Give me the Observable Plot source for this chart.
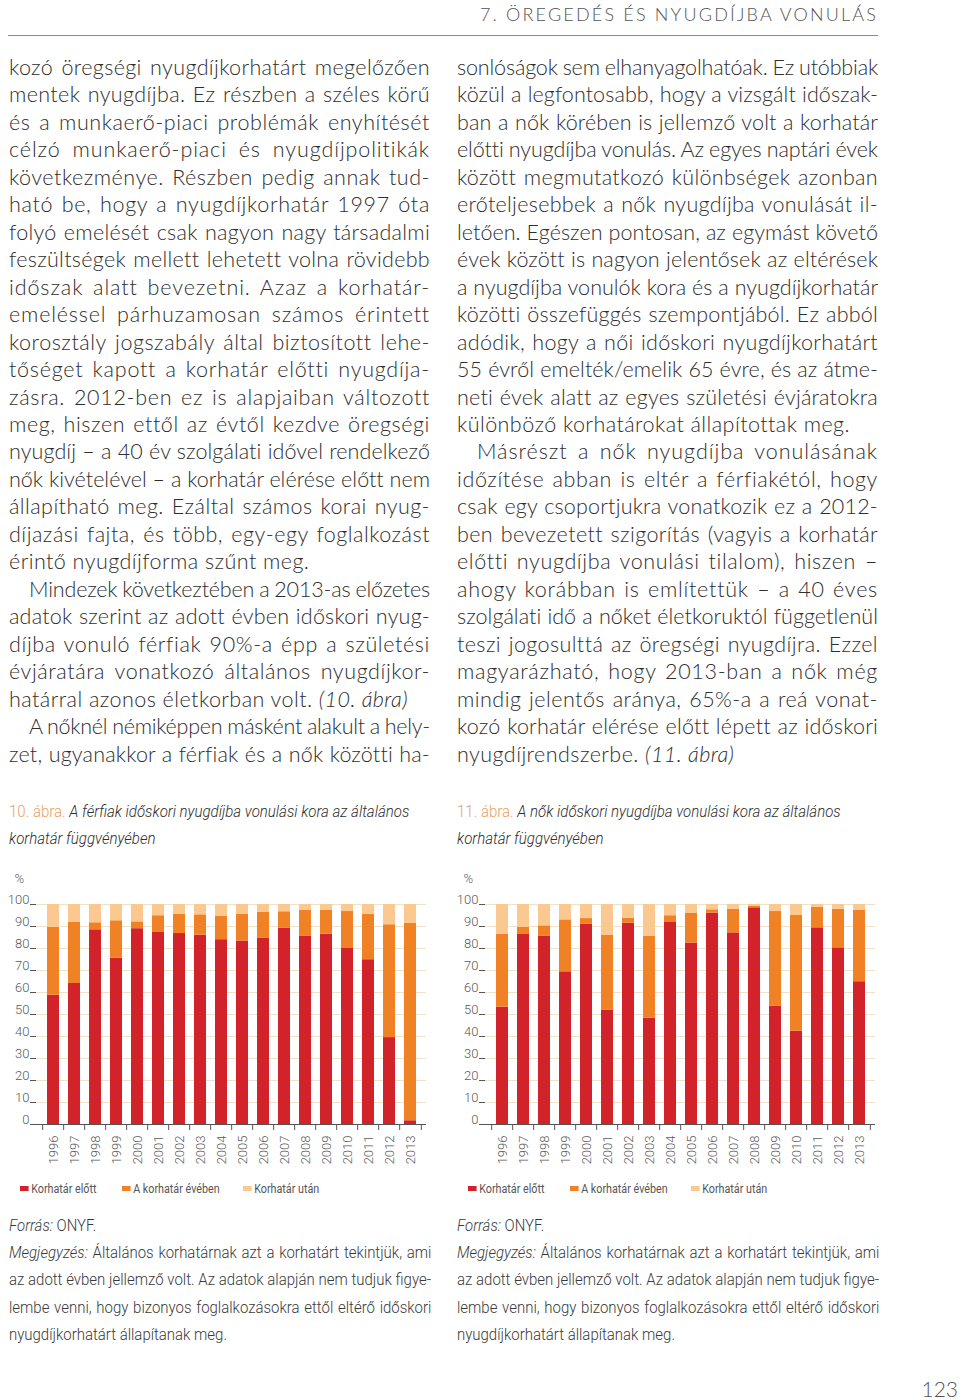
<!DOCTYPE html>
<html>
<head>
<meta charset="utf-8">
<script src="https://cdn.jsdelivr.net/npm/d3@7"></script>
<script src="https://cdn.jsdelivr.net/npm/@observablehq/plot@0.6"></script>
<style>
  html, body { margin: 0; padding: 0; background: #fff; }
  #page { position: relative; width: 960px; height: 1400px; overflow: hidden; background: #fff; }
  .body { position: absolute; font-family: Lato, "Open Sans", sans-serif; font-weight: 300; font-size: 21.5px; line-height: 27.46px; color: #2e2e2e; white-space: nowrap; }
  .narrow { font-family: Roboto, sans-serif; font-weight: 300; transform-origin: 0 50%; }
  .abs { position: absolute; white-space: nowrap; }
  .legend { position: absolute; font-size: 12.5px; color: #555; white-space: nowrap; }
  .sw { display: inline-block; width: 10px; height: 5px; vertical-align: middle; margin-right: 3px; position: relative; top: -1px; }
  .chart { position: absolute; }
</style>
</head>
<body>
<div id="page"></div>
<script>
// ---------- DATA ----------
const years = ["1996","1997","1998","1999","2000","2001","2002","2003","2004","2005","2006","2007","2008","2009","2010","2011","2012","2013"];
const seriesNames = ["Korhatár előtt", "A korhatár évében", "Korhatár után"];
const yTicks = [0,10,20,30,40,50,60,70,80,90,100];

// 10. ábra – férfiak (%)
const menBefore = [58.8,64.1,88.5,75.6,89.0,87.3,86.8,86.1,84.0,83.4,84.6,89.3,85.5,86.5,80.0,74.9,39.5,1.7];
const menInYear = [30.8,27.9,3.2,17.0,3.1,7.6,8.8,9.2,10.6,12.2,11.8,7.4,11.9,10.9,16.8,20.7,51.3,89.7];
const menAfter  = [10.4,8.0,8.3,7.4,7.9,5.1,4.4,4.7,5.4,4.4,3.6,3.3,2.6,2.6,3.2,4.4,9.2,8.6];

// 11. ábra – nők (%)
const womenBefore = [53.3,86.4,85.5,69.4,91.1,51.9,91.5,48.3,92.1,82.5,96.1,87.1,98.5,53.7,42.4,89.4,80.3,64.9];
const womenInYear = [33.2,3.3,4.8,23.6,2.5,34.2,2.3,37.3,2.8,13.6,1.5,10.8,0.6,43.1,52.6,9.4,17.6,32.4];
const womenAfter  = [13.5,10.3,9.7,7.0,6.4,13.9,6.2,14.4,5.1,3.9,2.4,2.1,0.9,3.2,5.0,1.2,2.1,2.7];

// ---------- TEXT ----------
const headerText = "7. ÖREGEDÉS ÉS NYUGDÍJBA VONULÁS";
const leftLines = [
  "kozó öregségi nyugdíjkorhatárt megelőzően",
  "mentek nyugdíjba. Ez részben a széles körű",
  "és a munkaerő-piaci problémák enyhítését",
  "célzó munkaerő-piaci és nyugdíjpolitikák",
  "következménye. Részben pedig annak tud-",
  "ható be, hogy a nyugdíjkorhatár 1997 óta",
  "folyó emelését csak nagyon nagy társadalmi",
  "feszültségek mellett lehetett volna rövidebb",
  "időszak alatt bevezetni. Azaz a korhatár-",
  "emeléssel párhuzamosan számos érintett",
  "korosztály jogszabály által biztosított lehe-",
  "tőséget kapott a korhatár előtti nyugdíja-",
  "zásra. 2012-ben ez is alapjaiban változott",
  "meg, hiszen ettől az évtől kezdve öregségi",
  "nyugdíj – a 40 év szolgálati idővel rendelkező",
  "nők kivételével – a korhatár elérése előtt nem",
  "állapítható meg. Ezáltal számos korai nyug-",
  "díjazási fajta, és több, egy-egy foglalkozást",
  "érintő nyugdíjforma szűnt meg.",
  "Mindezek következtében a 2013-as előzetes",
  "adatok szerint az adott évben időskori nyug-",
  "díjba vonuló férfiak 90%-a épp a születési",
  "évjáratára vonatkozó általános nyugdíjkor-",
  "határral azonos életkorban volt. (10. ábra)",
  "A nőknél némiképpen másként alakult a hely-",
  "zet, ugyanakkor a férfiak és a nők közötti ha-"
];
const leftIndent = [19, 24];
const leftLast = [18, 23];
const rightLines = [
  "sonlóságok sem elhanyagolhatóak. Ez utóbbiak",
  "közül a legfontosabb, hogy a vizsgált időszak-",
  "ban a nők körében is jellemző volt a korhatár",
  "előtti nyugdíjba vonulás. Az egyes naptári évek",
  "között megmutatkozó különbségek azonban",
  "erőteljesebbek a nők nyugdíjba vonulását il-",
  "letően. Egészen pontosan, az egymást követő",
  "évek között is nagyon jelentősek az eltérések",
  "a nyugdíjba vonulók kora és a nyugdíjkorhatár",
  "közötti összefüggés szempontjából. Ez abból",
  "adódik, hogy a női időskori nyugdíjkorhatárt",
  "55 évről emelték/emelik 65 évre, és az átme-",
  "neti évek alatt az egyes születési évjáratokra",
  "különböző korhatárokat állapítottak meg.",
  "Másrészt a nők nyugdíjba vonulásának",
  "időzítése abban is eltér a férfiakétól, hogy",
  "csak egy csoportjukra vonatkozik ez a 2012-",
  "ben bevezetett szigorítás (vagyis a korhatár",
  "előtti nyugdíjba vonulási tilalom), hiszen –",
  "ahogy korábban is említettük – a 40 éves",
  "szolgálati idő a nőket életkoruktól függetlenül",
  "teszi jogosulttá az öregségi nyugdíjra. Ezzel",
  "magyarázható, hogy 2013-ban a nők még",
  "mindig jelentős aránya, 65%-a a reá vonat-",
  "kozó korhatár elérése előtt lépett az időskori",
  "nyugdíjrendszerbe. (11. ábra)"
];
const rightIndent = [14];
const rightLast = [13, 25];

const captionNums = ["10. ábra.", "11. ábra."];
const captionTexts = ["A férfiak időskori nyugdíjba vonulási kora az általános", "A nők időskori nyugdíjba vonulási kora az általános"];
const captionLine2 = "korhatár függvényében";
const sourceText = "ONYF.";
const noteLines = [
  "Általános korhatárnak azt a korhatárt tekintjük, ami",
  "az adott évben jellemző volt. Az adatok alapján nem tudjuk figye-",
  "lembe venni, hogy bizonyos foglalkozásokra ettől eltérő időskori",
  "nyugdíjkorhatárt állapítanak meg."
];
const pageNumber = "123";

// ---------- STYLE ----------
const colors = ["#d2232b", "#f08125", "#fbc98f"];
const gridColor = "#efe2c6";
const chartFont = 'Roboto, sans-serif';

const page = document.getElementById("page");

function el(tag, cls, style, html) {
  const e = document.createElement(tag);
  if (cls) e.className = cls;
  Object.assign(e.style, style || {});
  if (html != null) e.innerHTML = html;
  page.appendChild(e);
  return e;
}
const width = e => e.getBoundingClientRect().width;

// justify a body line: part of the slack into letter-spacing, the rest into word spacing
function fitBody(e, W, justify) {
  const txt = e.textContent;
  const spaces = (txt.match(/ /g) || []).length;
  const n = txt.length;
  e.style.letterSpacing = "0px"; e.style.wordSpacing = "0px";
  const nat = width(e);
  let ls;
  if (justify) {
    ls = Math.max(-0.6, Math.min(1.6, (W - nat) * 0.7 / n));
  } else {
    ls = Math.min(0.45, (W - nat) / n);
  }
  e.style.letterSpacing = ls + "px";
  const w2 = width(e);
  if (justify && spaces > 0) e.style.wordSpacing = ((W - w2) / spaces) + "px";
}

// condensed text: fixed horizontal scale, optional justification
function fitNarrow(e, scale, W, justify) {
  e.style.transform = `scaleX(${scale})`;
  if (justify) {
    const txt = e.textContent;
    const spaces = (txt.match(/ /g) || []).length;
    const nat = e.offsetWidth;
    const target = W / scale;
    if (spaces > 0) e.style.wordSpacing = ((target - nat) / spaces) + "px";
  }
}

function italicize(s) {
  return s.replace(/\((1[01]\. ábra)\)/, "<i>($1)</i>");
}

// header
const hdr = el("div", "abs", {left: "480px", top: "3px", fontFamily: "Lato, sans-serif", fontWeight: "300", fontSize: "18px", color: "#555"}, headerText);
{
  const nat = width(hdr);
  hdr.style.letterSpacing = ((398 - nat) / headerText.length) + "px";
}
el("div", "abs", {left: "8px", top: "35px", width: "870px", height: "1px", background: "#8a8a8a"});

function column(lines, indents, lasts, x0) {
  const W = 421;
  lines.forEach((s, i) => {
    const ind = indents.includes(i) ? 20 : 0;
    const e = el("div", "body", {left: (x0 + ind) + "px", top: (54 + i * 27.46) + "px"}, italicize(s));
    fitBody(e, W - ind, !lasts.includes(i));
  });
}
column(leftLines, leftIndent, leftLast, 9);
column(rightLines, rightIndent, rightLast, 457);

// captions, legends, notes
[0, 1].forEach(k => {
  const x0 = k === 0 ? 9 : 457;
  const cap = el("div", "abs narrow", {left: x0 + "px", top: "802px", fontSize: "16.5px", color: "#2e2e2e"},
    `<span style="color:#e7a25f">${captionNums[k]}</span> <i>${captionTexts[k]}</i>`);
  const capScale = 0.91;
  fitNarrow(cap, capScale);
  const cap2 = el("div", "abs narrow", {left: x0 + "px", top: "829px", fontSize: "16.5px", color: "#2e2e2e"}, `<i>${captionLine2}</i>`);
  fitNarrow(cap2, capScale);

  const lx = k === 0 ? 20 : 468;
  const offs = [0, 102, 223];
  seriesNames.forEach((n, j) => {
    const lg = el("div", "legend narrow", {left: (lx + offs[j]) + "px", top: "1181px", fontWeight: "400"},
      `<span class="sw" style="background:${colors[j]}"></span>${n}`);
    fitNarrow(lg, 0.86);
  });

  const src = el("div", "abs narrow", {left: x0 + "px", top: "1215px", fontSize: "17px", color: "#3a3a3a"}, `<i>Forrás:</i> ${sourceText}`);
  fitNarrow(src, 0.88);
  noteLines.forEach((s, i) => {
    const html = i === 0 ? `<i>Megjegyzés:</i> ${s}` : s;
    const e = el("div", "abs narrow", {left: x0 + "px", top: (1242 + i * 27.3) + "px", fontSize: "17px", color: "#3a3a3a"}, html);
    fitNarrow(e, 0.88, 422, i < noteLines.length - 1);
  });
});
el("div", "abs", {right: "2px", top: "1376px", fontFamily: "Lato, sans-serif", fontWeight: "300", fontSize: "21px", color: "#555"}, pageNumber);

// charts
function chart(before, inYear, after) {
  const vals = [before, inYear, after];
  const rows = [];
  years.forEach((yr, i) => seriesNames.forEach((s, j) => rows.push({year: yr, series: s, value: vals[j][i]})));
  const W = 440, ml = 36, mr = 14;
  const step = (W - ml - mr) / years.length;
  return Plot.plot({
    width: W, height: 300,
    marginLeft: ml, marginRight: mr, marginTop: 34, marginBottom: 46,
    style: {fontFamily: chartFont, fontWeight: 300, fontSize: "13px", color: "#5a5a5a", background: "transparent", overflow: "visible"},
    x: {domain: years, paddingInner: 0.45, paddingOuter: 0.225, axis: null},
    y: {domain: [0, 100], axis: null},
    color: {domain: seriesNames, range: colors},
    marks: [
      Plot.gridY(yTicks, {stroke: gridColor, strokeOpacity: 1}),
      Plot.barY(rows, Plot.stackY({x: "year", y: "value", fill: "series", order: seriesNames})),
      Plot.ruleY([0], {stroke: "#555"}),
      Plot.axisX({tickSize: 6, tickFormat: () => "", dx: -step / 2, stroke: "#555", label: null}),
      Plot.axisX([years[years.length - 1]], {tickSize: 6, tickFormat: () => "", dx: step / 2, stroke: "#555", label: null}),
      Plot.axisX({tickSize: 0, tickRotate: -90, tickPadding: 11, fontSize: 13, label: null}),
      Plot.axisY(yTicks, {tickSize: 6, tickFormat: () => "", stroke: "#555", label: null}),
      Plot.axisY(yTicks, {tickSize: 0, tickPadding: 7, dy: -5, fontSize: 13, label: "%", labelAnchor: "top", labelArrow: "none", labelOffset: 22})
    ]
  });
}
const c1 = chart(menBefore, menInYear, menAfter);
c1.classList.add("chart"); c1.style.left = "0px"; c1.style.top = "870px";
page.appendChild(c1);
const c2 = chart(womenBefore, womenInYear, womenAfter);
c2.classList.add("chart"); c2.style.left = "449px"; c2.style.top = "870px";
page.appendChild(c2);
</script>
</body>
</html>
